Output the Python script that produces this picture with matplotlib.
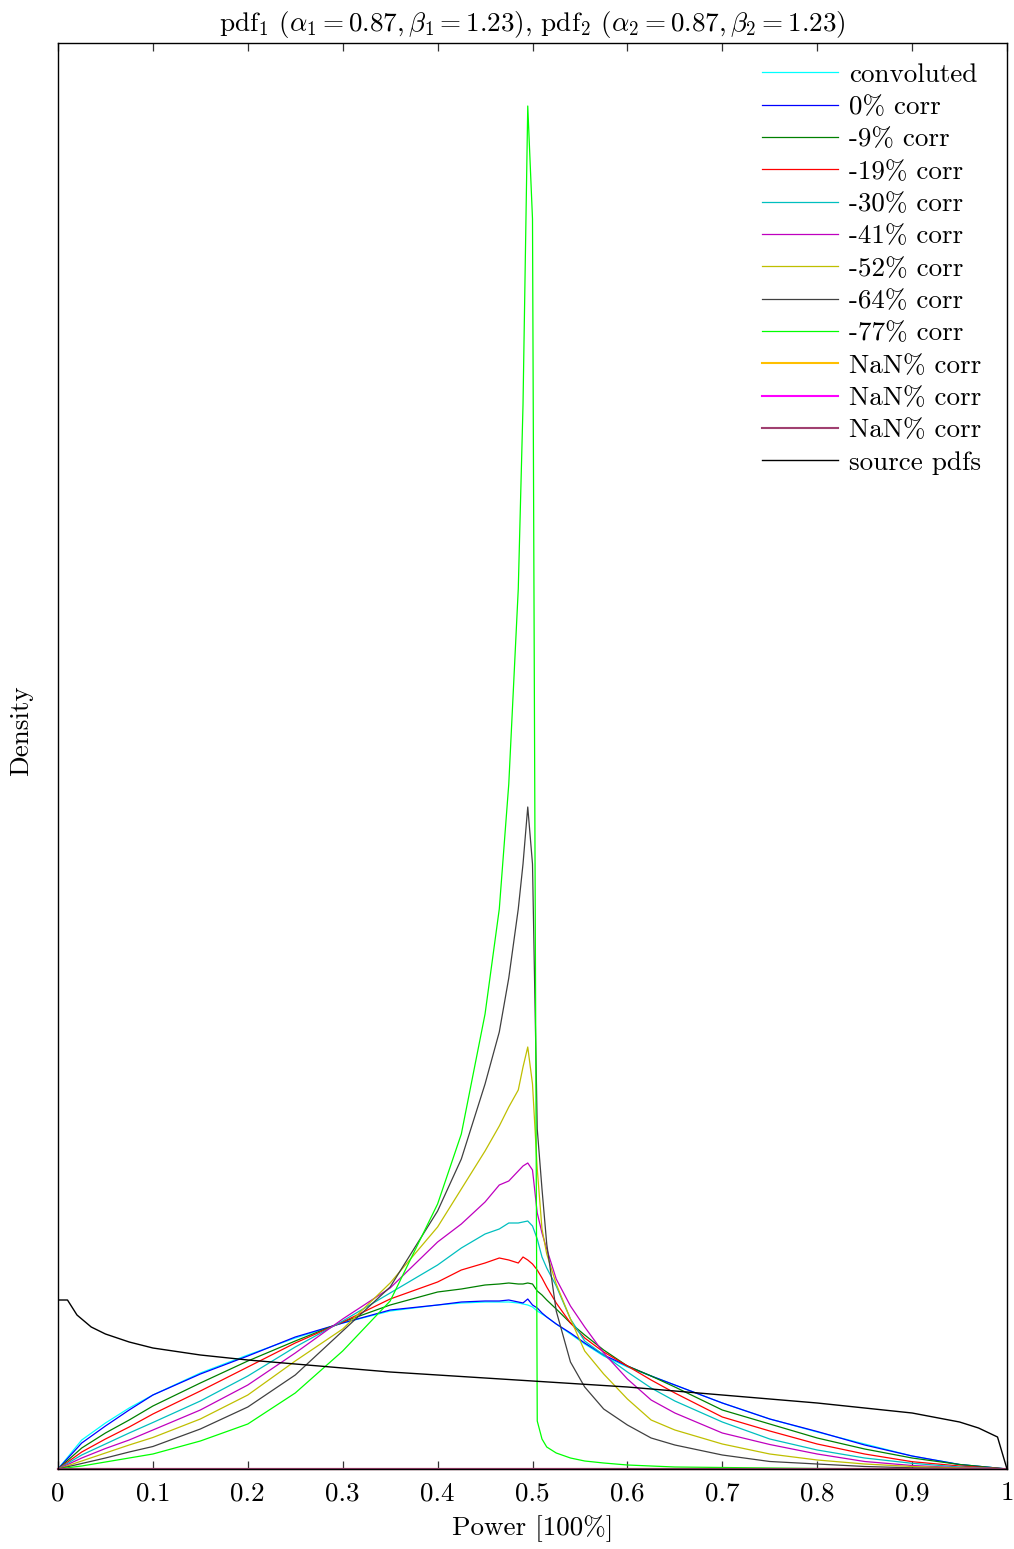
import matplotlib
matplotlib.use("Agg")
import matplotlib.pyplot as plt

plt.rcParams['font.family'] = 'serif'
plt.rcParams['font.serif'] = ['cmr10']
plt.rcParams['mathtext.fontset'] = 'cm'
plt.rcParams['axes.formatter.use_mathtext'] = True
plt.rcParams['axes.unicode_minus'] = False

# ---- data (density) ----
x = [0, 0.025, 0.05, 0.075, 0.1, 0.15, 0.2, 0.25, 0.3, 0.35, 0.4, 0.425, 0.45,
     0.465, 0.475, 0.485, 0.49, 0.495, 0.5, 0.505, 0.51, 0.515, 0.525, 0.54,
     0.555, 0.575, 0.6, 0.625, 0.65, 0.7, 0.75, 0.8, 0.85, 0.9, 0.95, 1.0]

convoluted = [0, .29, .46, .61, .74, .96, 1.14, 1.31, 1.46, 1.58, 1.64, 1.66, 1.67,
              1.67, 1.67, 1.66, 1.65, 1.64, 1.62, 1.58, 1.55, 1.52, 1.45, 1.35,
              1.25, 1.13, 1.02, .93, .84, .66, .50, .37, .25, .13, .045, 0]
corr_0 = [0, .26, .43, .59, .74, .95, 1.13, 1.32, 1.46, 1.59, 1.64, 1.67, 1.68,
          1.68, 1.69, 1.67, 1.66, 1.70, 1.64, 1.61, 1.56, 1.52, 1.45, 1.36,
          1.26, 1.14, 1.03, .93, .84, .66, .50, .375, .24, .13, .045, 0]
corr_m9 = [0, .21, .36, .49, .63, .86, 1.08, 1.28, 1.47, 1.64, 1.77, 1.80, 1.84,
           1.85, 1.86, 1.85, 1.85, 1.86, 1.85, 1.78, 1.74, 1.69, 1.60, 1.46,
           1.34, 1.19, 1.03, .93, .82, .59, .45, .31, .20, .11, .045, 0]
corr_m19 = [0, .17, .30, .42, .55, .78, 1.02, 1.26, 1.47, 1.70, 1.87, 1.99, 2.06,
            2.11, 2.09, 2.06, 2.12, 2.09, 2.05, 1.99, 1.91, 1.82, 1.66, 1.46,
            1.31, 1.17, 1.03, .89, .76, .52, .38, .25, .15, .073, .03, 0]
corr_m30 = [0, .14, .25, .36, .465, .68, .93, 1.22, 1.48, 1.76, 2.04, 2.21, 2.35,
            2.40, 2.46, 2.46, 2.47, 2.48, 2.43, 2.30, 2.12, 2.01, 1.83, 1.50,
            1.28, 1.14, .97, .81, .68, .47, .30, .19, .11, .057, .02, 0]
corr_m41 = [0, .11, .205, .29, .39, .59, .84, 1.16, 1.50, 1.81, 2.27, 2.45, 2.67,
            2.84, 2.88, 2.98, 3.03, 3.06, 2.99, 2.56, 2.36, 2.20, 1.90, 1.63,
            1.42, 1.16, .90, .69, .56, .36, .245, .15, .075, .035, .013, 0]
corr_m52 = [0, .08, .16, .24, .315, .50, .74, 1.08, 1.40, 1.86, 2.42, 2.80, 3.18,
            3.43, 3.62, 3.79, 4.02, 4.22, 3.85, 3.00, 2.40, 2.15, 1.85, 1.50,
            1.18, .95, .70, .49, .39, .25, .15, .09, .05, .025, .01, 0]
corr_m64 = [0, .055, .11, .17, .225, .40, .62, .94, 1.38, 1.82, 2.58, 3.10, 3.85,
            4.37, 4.91, 5.60, 6.05, 6.62, 6.05, 3.40, 2.80, 2.25, 1.58, 1.07,
            .82, .60, .44, .31, .24, .14, .075, .05, .025, .012, .005, 0]
corr_m77 = [0, .03, .07, .11, .15, .28, .45, .76, 1.18, 1.68, 2.65, 3.35, 4.55,
            5.60, 6.85, 8.80, 10.64, 13.63, 12.50, .48, .30, .22, .16, .11,
            .08, .06, .04, .03, .02, .015, .01, .005, .003, .002, .001, 0]
nan_x = [0, 1]
nan_y = [0, 0]

x_src = [0, 0.01, 0.02, 0.035, 0.05, 0.075, 0.1, 0.15, 0.2, 0.25, 0.3, 0.35, 0.4,
         0.45, 0.5, 0.55, 0.6, 0.65, 0.7, 0.75, 0.8, 0.85, 0.9, 0.95, 0.97, 0.99, 1.0]
source_pdf = [1.69, 1.69, 1.54, 1.42, 1.35, 1.27, 1.21, 1.14, 1.09, 1.05, 1.01, .97,
              .94, .91, .88, .85, .82, .78, .74, .70, .66, .61, .56, .47, .41, .32, 0]

labels = ['convoluted', '0% corr', '-9% corr', '-19% corr', '-30% corr',
          '-41% corr', '-52% corr', '-64% corr', '-77% corr',
          'NaN% corr', 'NaN% corr', 'NaN% corr', 'source pdfs']
xticks = [0, 0.1, 0.2, 0.3, 0.4, 0.5, 0.6, 0.7, 0.8, 0.9, 1.0]
xticklabels = ['0', '0.1', '0.2', '0.3', '0.4', '0.5', '0.6', '0.7', '0.8', '0.9', '1']

colors = ['#00ffff', '#0000ff', '#008000', '#ff0000', '#00bfbf', '#bf00bf',
          '#bfbf00', '#404040', '#00ff00', '#ffbf00', '#ff00ff', '#a04070', '#000000']

FS = 19.5

fig = plt.figure(figsize=(10.14, 15.49), dpi=100)
ax = fig.add_axes([58/1014, 1 - 1469/1549, 949/1014, 1426/1549])

series = [convoluted, corr_0, corr_m9, corr_m19, corr_m30, corr_m41,
          corr_m52, corr_m64, corr_m77]
for ys, c, lab in zip(series, colors[:9], labels[:9]):
    ax.plot(x, ys, color=c, lw=0.9, label=lab)
for c, lab in zip(colors[9:12], labels[9:12]):
    ax.plot(nan_x, nan_y, color=c, lw=1.5, label=lab, clip_on=False)
ax.plot(x_src, source_pdf, color=colors[12], lw=1.0, label=labels[12])

ax.set_xlim(0, 1)
ax.set_ylim(0, 14.26)
ax.set_xticks(xticks)
ax.set_xticklabels(xticklabels)
ax.set_yticks([])
ax.tick_params(axis='x', direction='in', length=6, width=0.9, top=True,
               labelsize=FS, pad=9, color='#333333')
for sp in ax.spines.values():
    sp.set_linewidth(1.0)

ax.set_title(r'pdf$_1$ ($\alpha_1 = 0.87, \beta_1 = 1.23$), pdf$_2$ ($\alpha_2 = 0.87, \beta_2 = 1.23$)',
             fontsize=FS, pad=9)
ax.set_xlabel('Power [100%]', fontsize=FS)
ax.xaxis.set_label_coords(0.5, -0.0325)
ax.set_ylabel('Density', fontsize=FS)
ax.yaxis.set_label_coords(-0.026, 0.5175)

leg = ax.legend(loc='upper left', bbox_to_anchor=(0.7418, 0.9862), frameon=False,
                fontsize=FS, handlelength=2.8, handletextpad=0.4,
                labelspacing=0.31, borderpad=0, borderaxespad=0)

fig.savefig('out.png', dpi=100)
